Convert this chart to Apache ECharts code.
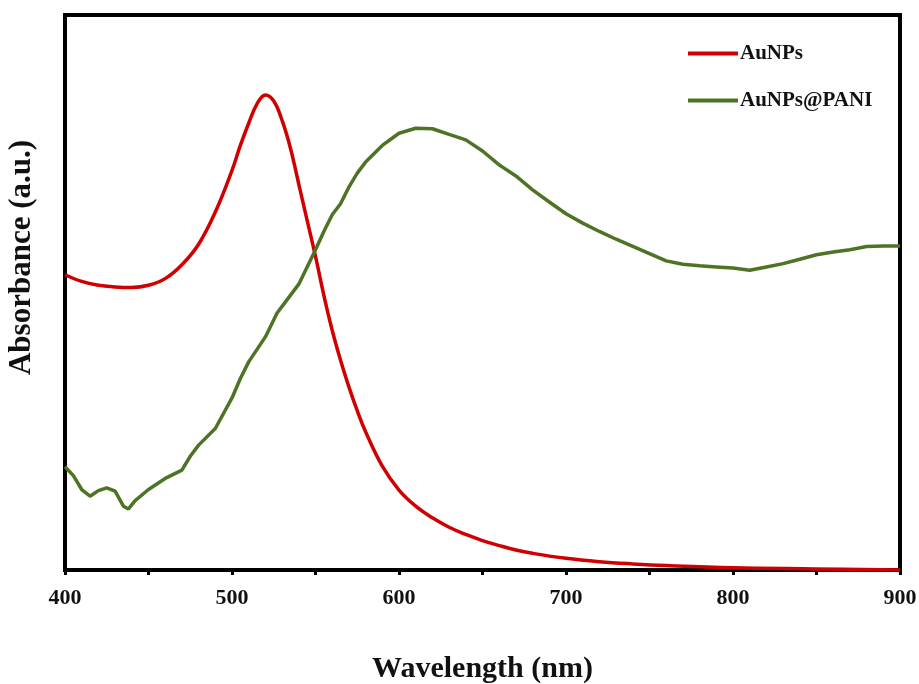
<!DOCTYPE html>
<html>
<head>
<meta charset="utf-8">
<script src="https://cdn.jsdelivr.net/npm/echarts@6/dist/echarts.min.js"></script>
<style>
  html, body { margin: 0; padding: 0; background: #fff; }
  #chart { width: 919px; height: 684px; }
</style>
</head>
<body>
<div id="chart"></div>
<script>
const xTicks = [400, 500, 600, 700, 800, 900];

const auWave = [400, 410, 420, 430, 440, 450, 460, 470, 480, 490, 500, 505, 510, 515, 520, 525, 530, 535, 540, 545, 550, 555, 560, 565, 570, 575, 580, 590, 600, 610, 620, 630, 640, 650, 660, 670, 680, 700, 720, 740, 760, 800, 850, 900];
const auAbs = [53.2, 52, 51.3, 51, 50.9, 51.3, 52.5, 55, 58.7, 64.5, 72, 76.5, 80.5, 84, 85.6, 84.5, 81, 76, 69.5, 63, 56.5, 49.5, 43.2, 37.8, 33, 28.7, 24.9, 18.7, 14.4, 11.5, 9.4, 7.7, 6.4, 5.3, 4.4, 3.6, 3, 2.1, 1.5, 1.1, 0.8, 0.4, 0.2, 0];

const paniWave = [400, 405, 410, 415, 420, 425, 430, 435, 438, 442, 450, 460, 470, 475, 480, 490, 500, 505, 510, 520, 527, 530, 540, 550, 555, 560, 565, 570, 575, 580, 590, 600, 610, 620, 630, 640, 650, 660, 670, 680, 690, 700, 710, 720, 730, 740, 750, 760, 770, 780, 790, 800, 810, 820, 830, 840, 850, 860, 870, 880, 890, 900];
const paniAbs = [18.6, 17, 14.5, 13.3, 14.3, 14.8, 14.2, 11.5, 11, 12.5, 14.5, 16.5, 18, 20.5, 22.5, 25.5, 31, 34.5, 37.5, 42, 46.3, 47.5, 51.5, 57.7, 61, 64, 66, 69, 71.5, 73.5, 76.5, 78.7, 79.6, 79.5, 78.5, 77.5, 75.5, 73, 71, 68.5, 66.3, 64.2, 62.5, 61, 59.6, 58.3, 57, 55.7, 55.1, 54.8, 54.6, 54.4, 54, 54.6, 55.2, 56, 56.8, 57.3, 57.7, 58.3, 58.4, 58.4];

const pairs = (xs, ys) => xs.map((x, i) => [x, ys[i]]);

const font = "'Liberation Serif', 'DejaVu Serif', serif";
const chart = echarts.init(document.getElementById("chart"));

chart.setOption({
  backgroundColor: "#fff",
  animation: false,
  grid: {
    left: 65, right: 19, top: 15, bottom: 114,
    outerBoundsMode: "none",
    show: true, borderColor: "#000", borderWidth: 4, backgroundColor: "transparent",
  },
  legend: {
    orient: "vertical",
    left: 683,
    top: 38,
    itemWidth: 50,
    itemHeight: 4,
    itemGap: 26,
    icon: "rect",
    textStyle: { fontFamily: font, fontWeight: "bold", fontSize: 21, color: "#111", padding: [0, 0, 0, -3] },
    data: ["AuNPs", "AuNPs@PANI"],
  },
  xAxis: {
    type: "value",
    min: 400,
    max: 900,
    interval: 50,
    name: "Wavelength (nm)",
    nameLocation: "middle",
    nameGap: 84,
    nameTextStyle: { fontFamily: font, fontWeight: "bold", fontSize: 30, color: "#111" },
    axisLine: { show: true, lineStyle: { color: "#000", width: 4 } },
    axisTick: { show: true, inside: false, length: 5, lineStyle: { color: "#000", width: 3 } },
    axisLabel: {
      margin: 17,
      fontFamily: font, fontWeight: "bold", fontSize: 22, color: "#111",
      formatter: (v) => (xTicks.includes(v) ? String(v) : ""),
    },
    splitLine: { show: false },
  },
  yAxis: {
    type: "value",
    min: 0,
    max: 100,
    name: "Absorbance (a.u.)",
    nameLocation: "middle",
    nameGap: 28,
    nameTextStyle: { fontFamily: font, fontWeight: "bold", fontSize: 31, color: "#111", padding: [0, 0, 0, 70] },
    axisLine: { show: true, lineStyle: { color: "#000", width: 4 } },
    axisTick: { show: false },
    axisLabel: { show: false },
    splitLine: { show: false },
  },
  series: [
    {
      name: "AuNPs",
      type: "line",
      smooth: 0.4,
      showSymbol: false,
      data: pairs(auWave, auAbs),
      lineStyle: { color: "#d00000", width: 3.5 },
      itemStyle: { color: "#d00000" },
    },
    {
      name: "AuNPs@PANI",
      type: "line",
      showSymbol: false,
      data: pairs(paniWave, paniAbs),
      lineStyle: { color: "#4d7424", width: 3.5 },
      itemStyle: { color: "#4d7424" },
    },
  ],
});
</script>
</body>
</html>
